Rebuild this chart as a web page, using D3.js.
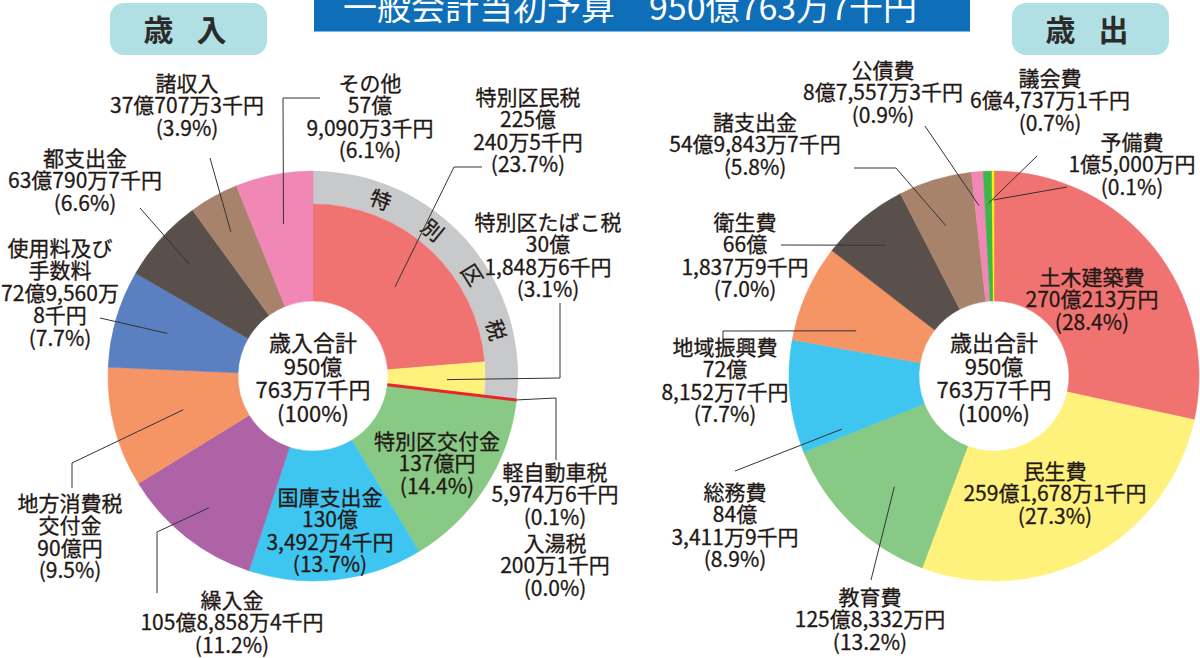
<!DOCTYPE html>
<html lang="ja">
<head>
<meta charset="UTF-8">
<title>一般会計当初予算</title>
<style>
  body { margin: 0; padding: 0; background: #fff; }
  svg text { font-family: "Noto Sans CJK JP", "Noto Sans", sans-serif; fill: #231815; }
  svg text.lbl { stroke: #231815; stroke-width: 0.3px; }
</style>
</head>
<body>
<div id="chart"></div>
<script src="https://cdn.jsdelivr.net/npm/d3@7"></script>
<script>
// 歳入 (単位: 千円)
const incomeNames = ['特別区民税', '特別区たばこ税', '軽自動車税', '入湯税', '特別区交付金', '国庫支出金',
  '繰入金', '地方消費税交付金', '使用料及び手数料', '都支出金', '諸収入', 'その他'];
const incomeValues = [22502405, 3018486, 59746, 2001, 13700000, 13034924,
  10588584, 9000000, 7295608, 6307907, 3707073, 5790903];
const incomeLabels = [
  ['特別区民税', '225億', '240万5千円', '(23.7%)'],
  ['特別区たばこ税', '30億', '1,848万6千円', '(3.1%)'],
  ['軽自動車税', '5,974万6千円', '(0.1%)'],
  ['入湯税', '200万1千円', '(0.0%)'],
  ['特別区交付金', '137億円', '(14.4%)'],
  ['国庫支出金', '130億', '3,492万4千円', '(13.7%)'],
  ['繰入金', '105億8,858万4千円', '(11.2%)'],
  ['地方消費税', '交付金', '90億円', '(9.5%)'],
  ['使用料及び', '手数料', '72億9,560万', '8千円', '(7.7%)'],
  ['都支出金', '63億790万7千円', '(6.6%)'],
  ['諸収入', '37億707万3千円', '(3.9%)'],
  ['その他', '57億', '9,090万3千円', '(6.1%)']
];
const wardTaxCount = 4; // 特別区税 = first 4 items
const wardTaxText = ['特', '別', '区', '税'];

// 歳出 (単位: 千円)
const expenseNames = ['土木建築費', '民生費', '教育費', '総務費', '地域振興費', '衛生費',
  '諸支出金', '公債費', '議会費', '予備費'];
const expenseValues = [27002130, 25916781, 12583320, 8434119, 7281527, 6618379,
  5498437, 875573, 647371, 150000];
const expenseLabels = [
  ['土木建築費', '270億213万円', '(28.4%)'],
  ['民生費', '259億1,678万1千円', '(27.3%)'],
  ['教育費', '125億8,332万円', '(13.2%)'],
  ['総務費', '84億', '3,411万9千円', '(8.9%)'],
  ['地域振興費', '72億', '8,152万7千円', '(7.7%)'],
  ['衛生費', '66億', '1,837万9千円', '(7.0%)'],
  ['諸支出金', '54億9,843万7千円', '(5.8%)'],
  ['公債費', '8億7,557万3千円', '(0.9%)'],
  ['議会費', '6億4,737万1千円', '(0.7%)'],
  ['予備費', '1億5,000万円', '(0.1%)']
];

const titleText = '一般会計当初予算　950億763万7千円';
const incomeTotal = ['歳入合計', '950億', '763万7千円', '(100%)'];
const expenseTotal = ['歳出合計', '950億', '763万7千円', '(100%)'];

const incomeColors = ['#f07371', '#fff27c', '#e8262a', '#e8262a', '#88c985', '#3ec6f1',
  '#ae63a6', '#f59566', '#5b80c1', '#5a504b', '#a8836c', '#f087b5'];
const expenseColors = ['#f07371', '#fff27c', '#88c985', '#3ec6f1', '#f59566', '#5a504b',
  '#a8836c', '#f087b5', '#3db54a', '#fff200'];

// layout
const W = 1200, H = 658;
const R = 205, R_IN = 75, R_WARD = 172;
const leftC = [313, 376], rightC = [994, 376];

// label placement: [centre x, first line centre y], leader: [t within slice, radius, ...elbow points]
const incomeLayout = [
  { at: [528, 97], lead: [0.5, 121, [454, 167], [482, 167]] },
  { at: [548, 222], lead: [0.55, 134, [560, 378], [560, 303]] },
  { at: [555, 472], lead: [0.0, R, [556, 398], [556, 460]] },
  { at: [555, 543] },
  { at: [437, 441] },
  { at: [330, 497] },
  { at: [232, 600], lead: [0.5, 168, [157, 532], [157, 593]] },
  { at: [70, 503], lead: [0.5, 134, [72, 463], [72, 488]] },
  { at: [60, 248], lead: [0.5, 152, [100, 318]] },
  { at: [85, 158], lead: [0.5, 166, [140, 208]] },
  { at: [187, 83], lead: [0.45, 166, [210, 158]] },
  { at: [370, 83], lead: [0.5, 155, [283, 98], [320, 98]] }
];
const expenseLayout = [
  { at: [1092, 277] },
  { at: [1055, 471] },
  { at: [870, 597], lead: [0.45, 149, [871, 580]] },
  { at: [735, 492], lead: [0.08, 161, [735, 471]] },
  { at: [725, 347], lead: [0.29, 145, [723, 331], [723, 343]] },
  { at: [745, 222], lead: [0.5, 170, [781, 245]] },
  { at: [755, 122], lead: [0.45, 158, [896, 168], [854, 168]] },
  { at: [883, 70], lead: [0.4, 171, [925, 126]] },
  { at: [1050, 78], lead: [0.5, 173, [1037, 156]] },
  { at: [1132, 142], lead: [0.5, 176, [1067, 187]] }
];

const svg = d3.select('#chart').append('svg')
  .attr('width', W)
  .attr('height', H);

function polar(c, a, r) {
  return [c[0] + r * Math.sin(a), c[1] - r * Math.cos(a)];
}

function textBlock(lines, x, y, size) {
  lines.forEach((s, i) => {
    svg.append('text')
      .attr('class', 'lbl')
      .attr('x', x)
      .attr('y', y + i * (size + 1.5))
      .attr('dy', '0.37em')
      .attr('text-anchor', 'middle')
      .attr('font-size', size)
      .text(s);
  });
}

const pie = d3.pie().sort(null).value(d => d);

function donut(c, values, colors, outer) {
  const arcs = pie(values);
  const g = svg.append('g').attr('transform', `translate(${c})`);
  g.selectAll('path.slice')
    .data(arcs)
    .join('path')
    .attr('class', 'slice')
    .attr('d', d => d3.arc().innerRadius(R_IN).outerRadius(outer(d))(d))
    .attr('fill', (d, i) => colors[i])
    .attr('stroke', (d, i) => colors[i])
    .attr('stroke-width', 0.5);
  return arcs;
}

function leaders(c, arcs, layout) {
  layout.forEach((l, i) => {
    if (!l.lead) return;
    const [t, r, ...pts] = l.lead;
    const a = arcs[i].startAngle + t * (arcs[i].endAngle - arcs[i].startAngle);
    const p = [polar(c, a, r)].concat(pts);
    svg.append('path')
      .attr('d', d3.line()(p))
      .attr('fill', 'none')
      .attr('stroke', '#333')
      .attr('stroke-width', 1);
  });
}

// ---- 歳入 ----
const inArcs = pie(incomeValues);
svg.append('path')
  .attr('transform', `translate(${leftC})`)
  .attr('d', d3.arc().innerRadius(R_WARD).outerRadius(R)({
    startAngle: inArcs[0].startAngle,
    endAngle: inArcs[wardTaxCount - 1].endAngle
  }))
  .attr('fill', '#c8c9cb');
donut(leftC, incomeValues, incomeColors, d => d.index < wardTaxCount ? R_WARD : R);

// 軽自動車税・入湯税 (ごく小さいので赤線で表示)
const kA = inArcs[2].startAngle;
svg.append('line')
  .attr('x1', polar(leftC, kA, R_IN)[0]).attr('y1', polar(leftC, kA, R_IN)[1])
  .attr('x2', polar(leftC, kA, R)[0]).attr('y2', polar(leftC, kA, R)[1])
  .attr('stroke', '#e8262a')
  .attr('stroke-width', 3);

// 特別区税 ring text
const wardSpan = inArcs[wardTaxCount - 1].endAngle - inArcs[0].startAngle;
wardTaxText.forEach((ch, i) => {
  const a = inArcs[0].startAngle + wardSpan * (i + 1.15) / 5.3;
  const p = polar(leftC, a, (R + R_WARD) / 2);
  svg.append('text')
    .attr('class', 'lbl')
    .attr('transform', `translate(${p}) rotate(${a * 180 / Math.PI})`)
    .attr('dy', '0.37em')
    .attr('text-anchor', 'middle')
    .attr('font-size', 21)
    .text(ch);
});

leaders(leftC, inArcs, incomeLayout);
incomeLayout.forEach((l, i) => textBlock(incomeLabels[i], l.at[0], l.at[1], 21));
textBlock(incomeTotal, leftC[0], 343, 22);

// ---- 歳出 ----
const exArcs = donut(rightC, expenseValues, expenseColors, () => R);
leaders(rightC, exArcs, expenseLayout);
expenseLayout.forEach((l, i) => textBlock(expenseLabels[i], l.at[0], l.at[1], 21));
textBlock(expenseTotal, rightC[0], 343, 22);

// ---- title & headers ----
svg.append('rect')
  .attr('x', 314).attr('y', -2)
  .attr('width', 656).attr('height', 33)
  .attr('fill', '#0e6eb8');
svg.append('line')
  .attr('x1', 314).attr('x2', 970)
  .attr('y1', 31.5).attr('y2', 31.5)
  .attr('stroke', '#7fb6e0');
svg.append('text')
  .attr('x', 343).attr('y', 20)
  .attr('font-size', 34)
  .style('fill', '#fff')
  .text(titleText);

[['歳 入', 110], ['歳 出', 1012]].forEach(([s, x]) => {
  svg.append('rect')
    .attr('x', x).attr('y', 3)
    .attr('width', 157).attr('height', 52)
    .attr('rx', 14)
    .attr('fill', '#b0dfe4');
  svg.append('text')
    .attr('x', x + 79).attr('y', 41)
    .attr('text-anchor', 'middle')
    .attr('font-size', 30)
    .attr('font-weight', 'bold')
    .attr('letter-spacing', 8)
    .style('fill', '#2b2b2b')
    .text(s);
});
</script>
</body>
</html>
